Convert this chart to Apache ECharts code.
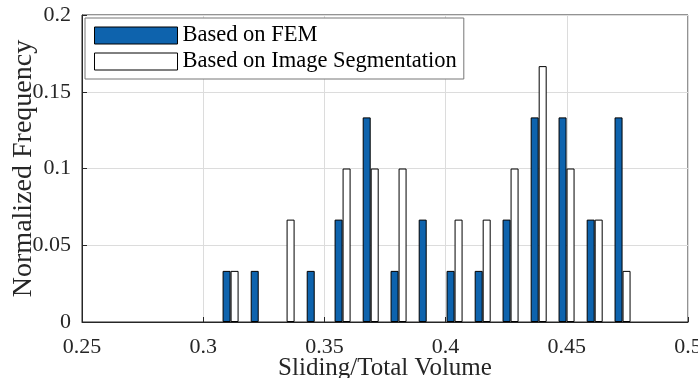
<!DOCTYPE html>
<html>
<head>
<meta charset="utf-8">
<script src="https://cdn.jsdelivr.net/npm/echarts@6/dist/echarts.min.js"></script>
<style>
html,body{margin:0;padding:0;background:#fff;}
#chart{width:698px;height:378px;}
</style>
</head>
<body>
<div id="chart"></div>
<script>
// Bin centers (Sliding/Total Volume)
var binCenters = [0.3113, 0.3229, 0.3344, 0.3460, 0.3575, 0.3691, 0.3806, 0.3922, 0.4037, 0.4153, 0.4268, 0.4384, 0.4499, 0.4615, 0.4730];
// Normalized frequency values
var femValues = [0.0333, 0.0333, 0, 0.0333, 0.0667, 0.1333, 0.0333, 0.0667, 0.0333, 0.0333, 0.0667, 0.1333, 0.1333, 0.0667, 0.1333];
var segValues = [0.0333, 0, 0.0667, 0, 0.1, 0.1, 0.1, 0, 0.0667, 0.0667, 0.1, 0.1667, 0.1, 0.0667, 0.0333];
var seriesNames = ['Based on FEM', 'Based on Image Segmentation'];
var xTicks = [0.25, 0.3, 0.35, 0.4, 0.45, 0.5];
var yTicks = [0, 0.05, 0.1, 0.15, 0.2];

function pairs(vals) {
  var out = [];
  for (var i = 0; i < binCenters.length; i++) {
    if (vals[i] > 0) out.push([binCenters[i], vals[i]]);
  }
  return out;
}

var FONT = "'Liberation Serif', 'DejaVu Serif', serif";
var chart = echarts.init(document.getElementById('chart'));
chart.setOption({
  animation: false,
  backgroundColor: '#fff',
  grid: {left: 82, right: 10, top: 15, bottom: 56, outerBoundsMode: 'none', containLabel: false,
    show: true, borderColor: '#262626', borderWidth: 1, backgroundColor: 'transparent'},
  legend: {
    orient: 'vertical',
    left: 85, top: 18,
    padding: [6, 7, 6, 9],
    itemGap: 3,
    itemWidth: 83, itemHeight: 17,
    itemTextGap: 8,
    itemStyle: {borderColor: '#000', borderWidth: 1},
    textStyle: {fontFamily: FONT, fontSize: 22.5, color: '#000'},
    borderColor: '#777', borderWidth: 1,
    backgroundColor: '#fff',
    icon: 'rect',
    data: seriesNames
  },
  xAxis: {
    type: 'value', min: xTicks[0], max: xTicks[xTicks.length - 1], interval: 0.05,
    name: 'Sliding/Total Volume', nameLocation: 'middle', nameGap: 34, nameMoveOverlap: false,
    nameTextStyle: {fontFamily: FONT, fontSize: 25, color: '#262626'},
    axisLine: {show: true, lineStyle: {color: '#262626', width: 1}},
    axisTick: {show: true, inside: true, length: 5, lineStyle: {color: '#262626'}},
    axisLabel: {fontFamily: FONT, fontSize: 22, color: '#262626', margin: 14, hideOverlap: false,
      formatter: function (v) { return String(Math.round(v * 100) / 100); }},
    splitLine: {show: true, lineStyle: {color: '#dcdcdc', width: 1}}
  },
  yAxis: {
    type: 'value', min: yTicks[0], max: yTicks[yTicks.length - 1], interval: 0.05,
    name: 'Normalized Frequency', nameLocation: 'middle', nameGap: 44, nameMoveOverlap: false,
    nameTextStyle: {fontFamily: FONT, fontSize: 28, color: '#262626'},
    axisLine: {show: true, lineStyle: {color: '#262626', width: 1}},
    axisTick: {show: true, inside: true, length: 5, lineStyle: {color: '#262626'}},
    axisLabel: {fontFamily: FONT, fontSize: 22, color: '#262626', margin: 11,
      formatter: function (v) { return String(Math.round(v * 100) / 100); }},
    splitLine: {show: true, lineStyle: {color: '#dcdcdc', width: 1}}
  },
  series: [
    {name: seriesNames[0], type: 'bar', data: pairs(femValues), barWidth: 8, barGap: '0%',
     itemStyle: {color: '#0e63ad', borderColor: '#000', borderWidth: 1}},
    {name: seriesNames[1], type: 'bar', data: pairs(segValues), barWidth: 8, barGap: '0%',
     itemStyle: {color: '#ffffff', borderColor: '#000', borderWidth: 1}}
  ]
});
</script>
</body>
</html>
